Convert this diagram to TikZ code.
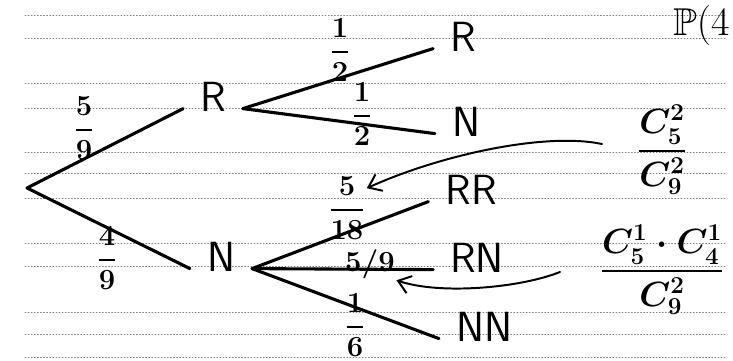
\documentclass[tikz,border=0pt]{standalone}
\usepackage{amsmath,amssymb}
\usetikzlibrary{arrows.meta}
\tikzset{
  hoja/.style={font=\fontsize{30}{32}\selectfont\sffamily, inner xsep=0.42cm},
  prob/.style={font=\fontsize{20}{22}\selectfont\boldmath, inner sep=1pt},
  cociente/.style={font=\fontsize{25}{28}\selectfont\boldmath, inner sep=1pt},
  rama/.style={line width=2.2pt},
  flecha/.style={line width=1.4pt, -{Straight Barb[length=3mm,width=4.5mm]}},
  renglon/.style={gray, line width=0.5pt, dash pattern=on 0.7pt off 1.5pt}
}
\begin{document}
\begin{tikzpicture}[x=0.025cm, y=-0.025cm, line cap=round, line join=round]
  \useasboundingbox (0,0) rectangle (733,361);
  % los renglones
  \foreach \y in {15,38,83,108,152,173,198,243,266,312,334,357} { \draw[renglon] (25,\y) -- (725,\y); }
  % el arbol
  \coordinate (raiz) at (27,188);
  \node[hoja] (r) at (213,97) {R};
  \node[hoja] (n) at (221,257) {N};
  \node[hoja] (rR) at (463,37) {R};
  \node[hoja] (rN) at (466,122) {N};
  \node[hoja] (nRR) at (471,190) {RR};
  \node[hoja] (nRN) at (477,258) {RN};
  \node[hoja] (nNN) at (484,327) {NN};
  \draw[rama] (raiz) -- (r.mid west);
  \draw[rama] (raiz) -- (n.mid west);
  \draw[rama] (r.mid east) -- (rR.mid west);
  \draw[rama] (r.mid east) -- (rN.mid west);
  \draw[rama] (n.mid east) -- (nRR.mid west);
  \draw[rama] (n.mid east) -- (nRN.mid west);
  \draw[rama] (n.mid east) -- (nNN.mid west);
  % las probabilidades
  \node[prob] (p59) at (84,128) {$\dfrac{5}{9}$};
  \node[prob] (p49) at (107,258) {$\dfrac{4}{9}$};
  \node[prob] (p12a) at (340,50) {$\dfrac{1}{2}$};
  \node[prob] (p12b) at (362,114) {$\dfrac{1}{2}$};
  \node[prob] (p518) at (347,208) {$\dfrac{5}{18}$};
  \node[prob] (p59b) at (370,264) {$5/9$};
  \node[prob] (p16) at (355,325) {$\dfrac{1}{6}$};
  % los cocientes y sus flechas
  \node[cociente] (cA) at (662,150) {$\dfrac{C^2_5}{C^2_9}$};
  \node[cociente] (cB) at (662,270) {$\dfrac{C^1_5\cdot C^1_4}{C^2_9}$};
  \coordinate (colaA) at (602,144);
  \coordinate (colaB) at (560,272);
  \draw[flecha] (colaA) .. controls (545,132) and (440,155) .. (p518.45);
  \draw[flecha] (colaB) .. controls (520,288) and (440,295) .. (p59b.south east);
  % arriba a la derecha
  \node[font=\fontsize{24}{26}\selectfont, scale=1.15, anchor=east, inner sep=0pt] (titulo) at (730,25) {$\mathbb{P}(4$};
\end{tikzpicture}
\end{document}
